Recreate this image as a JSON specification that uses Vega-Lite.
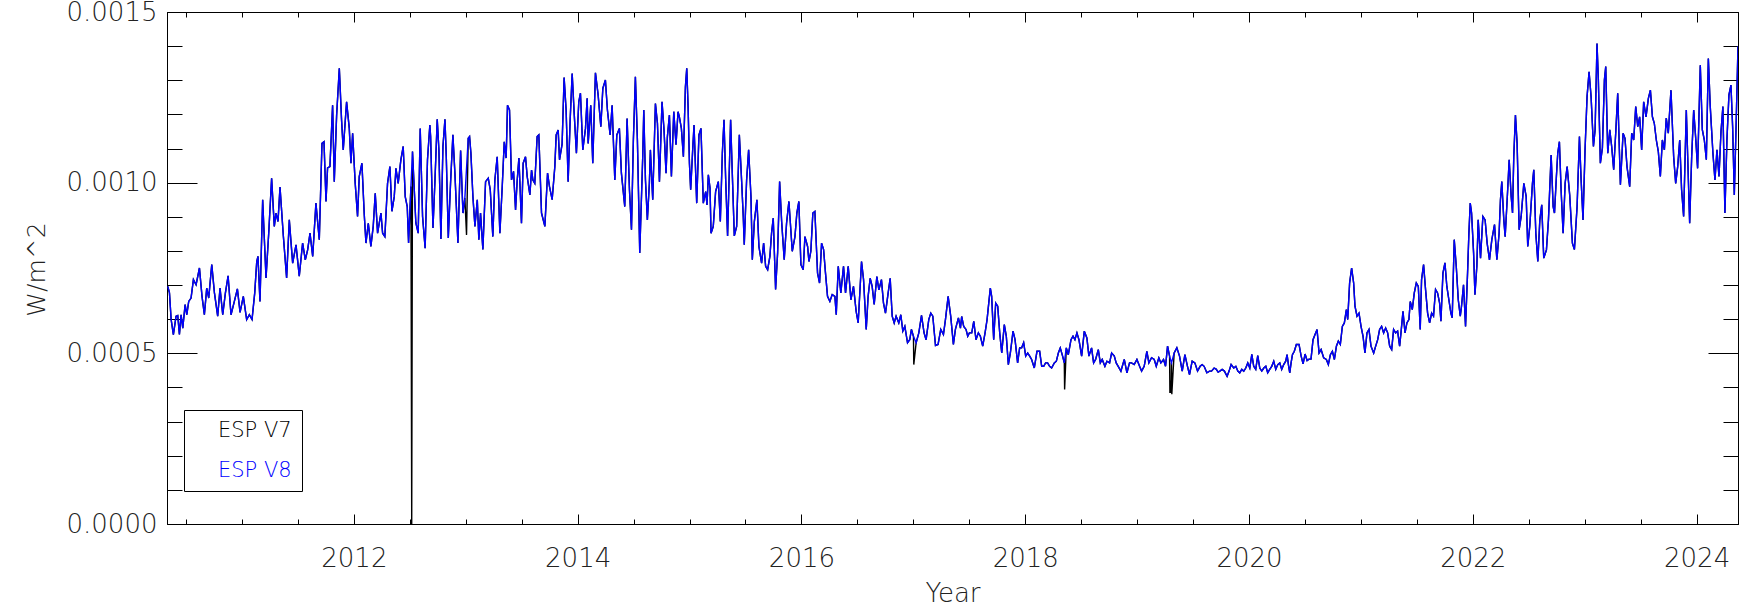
{
"$schema": "https://vega.github.io/schema/vega-lite/v6.json",
"width": 1571, "height": 512,
"autosize": {"type": "none"},
"padding": {"left": 167, "top": 12, "right": 11, "bottom": 82},
"background": "white",
"config": {
 "view": {"stroke": "#000", "strokeWidth": 1},
 "axis": {"labelFont": "DejaVu Sans", "labelFontWeight": 200, "labelFontSize": 26, "labelColor": "#222", "titleFont": "DejaVu Sans", "titleFontWeight": 200, "titleColor": "#222", "titleFontSize": 26, "grid": false, "domainColor": "#000", "tickColor": "#000", "tickWidth": 1, "labelFlush": false, "labelOverlap": false, "labelBound": false},
 "axisLeft": {"titleFontSize": 25}
},
"data": {"values": [
{"year":2010.337,"v7":0.000696,"v8":0.000696},{"year":2010.352,"v7":0.000677,"v8":0.000677},{"year":2010.367,"v7":0.000599,"v8":0.000599},{"year":2010.387,"v7":0.000555,"v8":0.000555},{"year":2010.411,"v7":0.000609,"v8":0.000609},{"year":2010.426,"v7":0.000611,"v8":0.000611},{"year":2010.441,"v7":0.000555,"v8":0.000555},{"year":2010.456,"v7":0.000613,"v8":0.000613},{"year":2010.471,"v7":0.000574,"v8":0.000574},{"year":2010.492,"v7":0.000643,"v8":0.000643},{"year":2010.507,"v7":0.000613,"v8":0.000613},{"year":2010.524,"v7":0.000652,"v8":0.000652},{"year":2010.545,"v7":0.000662,"v8":0.000662},{"year":2010.566,"v7":0.000716,"v8":0.000716},{"year":2010.590,"v7":0.000701,"v8":0.000701},{"year":2010.620,"v7":0.000750,"v8":0.000750},{"year":2010.643,"v7":0.000667,"v8":0.000667},{"year":2010.664,"v7":0.000613,"v8":0.000613},{"year":2010.685,"v7":0.000691,"v8":0.000691},{"year":2010.703,"v7":0.000662,"v8":0.000662},{"year":2010.730,"v7":0.000760,"v8":0.000760},{"year":2010.754,"v7":0.000677,"v8":0.000677},{"year":2010.783,"v7":0.000609,"v8":0.000609},{"year":2010.804,"v7":0.000691,"v8":0.000691},{"year":2010.828,"v7":0.000613,"v8":0.000613},{"year":2010.852,"v7":0.000677,"v8":0.000677},{"year":2010.876,"v7":0.000727,"v8":0.000727},{"year":2010.902,"v7":0.000613,"v8":0.000613},{"year":2010.932,"v7":0.000652,"v8":0.000652},{"year":2010.959,"v7":0.000689,"v8":0.000689},{"year":2010.983,"v7":0.000620,"v8":0.000620},{"year":2011.012,"v7":0.000667,"v8":0.000667},{"year":2011.042,"v7":0.000599,"v8":0.000599},{"year":2011.066,"v7":0.000613,"v8":0.000613},{"year":2011.090,"v7":0.000599,"v8":0.000599},{"year":2011.114,"v7":0.000677,"v8":0.000677},{"year":2011.132,"v7":0.000769,"v8":0.000769},{"year":2011.143,"v7":0.000784,"v8":0.000784},{"year":2011.161,"v7":0.000652,"v8":0.000652},{"year":2011.185,"v7":0.000950,"v8":0.000950},{"year":2011.215,"v7":0.000721,"v8":0.000721},{"year":2011.239,"v7":0.000852,"v8":0.000852},{"year":2011.265,"v7":0.001013,"v8":0.001013},{"year":2011.289,"v7":0.000872,"v8":0.000872},{"year":2011.304,"v7":0.000911,"v8":0.000911},{"year":2011.322,"v7":0.000886,"v8":0.000886},{"year":2011.340,"v7":0.000987,"v8":0.000987},{"year":2011.370,"v7":0.000843,"v8":0.000843},{"year":2011.399,"v7":0.000721,"v8":0.000721},{"year":2011.423,"v7":0.000891,"v8":0.000891},{"year":2011.453,"v7":0.000764,"v8":0.000764},{"year":2011.483,"v7":0.000818,"v8":0.000818},{"year":2011.512,"v7":0.000726,"v8":0.000726},{"year":2011.542,"v7":0.000823,"v8":0.000823},{"year":2011.566,"v7":0.000774,"v8":0.000774},{"year":2011.587,"v7":0.000803,"v8":0.000803},{"year":2011.608,"v7":0.000852,"v8":0.000852},{"year":2011.632,"v7":0.000784,"v8":0.000784},{"year":2011.661,"v7":0.000940,"v8":0.000940},{"year":2011.676,"v7":0.000886,"v8":0.000886},{"year":2011.691,"v7":0.000833,"v8":0.000833},{"year":2011.715,"v7":0.001115,"v8":0.001115},{"year":2011.733,"v7":0.001120,"v8":0.001120},{"year":2011.751,"v7":0.000945,"v8":0.000945},{"year":2011.765,"v7":0.001043,"v8":0.001043},{"year":2011.786,"v7":0.001047,"v8":0.001047},{"year":2011.810,"v7":0.001227,"v8":0.001227},{"year":2011.825,"v7":0.001003,"v8":0.001003},{"year":2011.846,"v7":0.001198,"v8":0.001198},{"year":2011.870,"v7":0.001335,"v8":0.001335},{"year":2011.890,"v7":0.001184,"v8":0.001184},{"year":2011.905,"v7":0.001096,"v8":0.001096},{"year":2011.935,"v7":0.001237,"v8":0.001237},{"year":2011.959,"v7":0.001159,"v8":0.001159},{"year":2011.974,"v7":0.001057,"v8":0.001057},{"year":2011.989,"v7":0.001145,"v8":0.001145},{"year":2012.012,"v7":0.000998,"v8":0.000998},{"year":2012.033,"v7":0.000901,"v8":0.000901},{"year":2012.048,"v7":0.001018,"v8":0.001018},{"year":2012.072,"v7":0.001057,"v8":0.001057},{"year":2012.093,"v7":0.000906,"v8":0.000906},{"year":2012.108,"v7":0.000823,"v8":0.000823},{"year":2012.129,"v7":0.000881,"v8":0.000881},{"year":2012.152,"v7":0.000813,"v8":0.000813},{"year":2012.173,"v7":0.000872,"v8":0.000872},{"year":2012.191,"v7":0.000969,"v8":0.000969},{"year":2012.212,"v7":0.000852,"v8":0.000852},{"year":2012.242,"v7":0.000911,"v8":0.000911},{"year":2012.257,"v7":0.000852,"v8":0.000852},{"year":2012.277,"v7":0.000842,"v8":0.000842},{"year":2012.301,"v7":0.000998,"v8":0.000998},{"year":2012.322,"v7":0.001047,"v8":0.001047},{"year":2012.340,"v7":0.000916,"v8":0.000916},{"year":2012.361,"v7":0.000959,"v8":0.000959},{"year":2012.376,"v7":0.001042,"v8":0.001042},{"year":2012.396,"v7":0.000998,"v8":0.000998},{"year":2012.420,"v7":0.001067,"v8":0.001067},{"year":2012.441,"v7":0.001106,"v8":0.001106},{"year":2012.459,"v7":0.000959,"v8":0.000959},{"year":2012.477,"v7":0.000930,"v8":0.000930},{"year":2012.489,"v7":0.000823,"v8":0.000823},{"year":2012.510,"v7":0.000989,"v8":0.000989},{"year":2012.517,"v7":0.0},{"year":2012.524,"v7":0.001091,"v8":0.001091},{"year":2012.554,"v7":0.000882,"v8":0.000882},{"year":2012.575,"v7":0.000852,"v8":0.000852},{"year":2012.593,"v7":0.001159,"v8":0.001159},{"year":2012.614,"v7":0.000901,"v8":0.000901},{"year":2012.637,"v7":0.000808,"v8":0.000808},{"year":2012.658,"v7":0.001067,"v8":0.001067},{"year":2012.679,"v7":0.001169,"v8":0.001169},
{"year":2012.686,"v7":0.001135,"v8":0.001135},{"year":2012.707,"v7":0.000867,"v8":0.000867},{"year":2012.725,"v7":0.001008,"v8":0.001008},{"year":2012.745,"v7":0.001186,"v8":0.001186},{"year":2012.760,"v7":0.001096,"v8":0.001096},{"year":2012.778,"v7":0.000835,"v8":0.000835},{"year":2012.796,"v7":0.001106,"v8":0.001106},{"year":2012.814,"v7":0.001186,"v8":0.001186},{"year":2012.826,"v7":0.001076,"v8":0.001076},{"year":2012.844,"v7":0.000838,"v8":0.000838},{"year":2012.864,"v7":0.000998,"v8":0.000998},{"year":2012.885,"v7":0.001140,"v8":0.001140},{"year":2012.903,"v7":0.001028,"v8":0.001028},{"year":2012.930,"v7":0.000823,"v8":0.000823},{"year":2012.954,"v7":0.001094,"v8":0.001094},{"year":2012.975,"v7":0.000911,"v8":0.000911},{"year":2012.992,"v7":0.000955,"v8":0.000955},{"year":2013.007,"v7":0.000847},{"year":2013.022,"v7":0.001130,"v8":0.001130},{"year":2013.034,"v7":0.001135,"v8":0.001135},{"year":2013.046,"v7":0.001086,"v8":0.001086},{"year":2013.064,"v7":0.000959,"v8":0.000959},{"year":2013.082,"v7":0.000872,"v8":0.000872},{"year":2013.103,"v7":0.000950,"v8":0.000950},{"year":2013.117,"v7":0.000833,"v8":0.000833},{"year":2013.132,"v7":0.000911,"v8":0.000911},{"year":2013.153,"v7":0.000804,"v8":0.000804},{"year":2013.177,"v7":0.001003,"v8":0.001003},{"year":2013.201,"v7":0.001013,"v8":0.001013},{"year":2013.219,"v7":0.000979,"v8":0.000979},{"year":2013.242,"v7":0.000842,"v8":0.000842},{"year":2013.260,"v7":0.001008,"v8":0.001008},{"year":2013.281,"v7":0.001076,"v8":0.001076},{"year":2013.305,"v7":0.000852,"v8":0.000852},{"year":2013.326,"v7":0.000989,"v8":0.000989},{"year":2013.344,"v7":0.001120,"v8":0.001120},{"year":2013.361,"v7":0.001072,"v8":0.001072},{"year":2013.373,"v7":0.001227,"v8":0.001227},{"year":2013.391,"v7":0.001213,"v8":0.001213},{"year":2013.409,"v7":0.001008,"v8":0.001008},{"year":2013.427,"v7":0.001033,"v8":0.001033},{"year":2013.445,"v7":0.000920,"v8":0.000920},{"year":2013.460,"v7":0.001008,"v8":0.001008},{"year":2013.475,"v7":0.001072,"v8":0.001072},{"year":2013.498,"v7":0.000881,"v8":0.000881},{"year":2013.513,"v7":0.001057,"v8":0.001057},{"year":2013.534,"v7":0.001076,"v8":0.001076},{"year":2013.549,"v7":0.001018,"v8":0.001018},{"year":2013.573,"v7":0.000964,"v8":0.000964},{"year":2013.588,"v7":0.001037,"v8":0.001037},{"year":2013.600,"v7":0.001008,"v8":0.001008},{"year":2013.617,"v7":0.000998,"v8":0.000998},{"year":2013.638,"v7":0.001135,"v8":0.001135},{"year":2013.653,"v7":0.001140,"v8":0.001140},{"year":2013.677,"v7":0.000911,"v8":0.000911},{"year":2013.707,"v7":0.000872,"v8":0.000872},{"year":2013.731,"v7":0.001028,"v8":0.001028},{"year":2013.748,"v7":0.000989,"v8":0.000989},{"year":2013.772,"v7":0.000950,"v8":0.000950},{"year":2013.796,"v7":0.001047,"v8":0.001047},{"year":2013.808,"v7":0.001140,"v8":0.001140},{"year":2013.826,"v7":0.001154,"v8":0.001154},{"year":2013.838,"v7":0.001067,"v8":0.001067},{"year":2013.861,"v7":0.001113,"v8":0.001113},{"year":2013.879,"v7":0.001308,"v8":0.001308},{"year":2013.897,"v7":0.001213,"v8":0.001213},{"year":2013.915,"v7":0.001003,"v8":0.001003},{"year":2013.933,"v7":0.001184,"v8":0.001184},{"year":2013.951,"v7":0.001320,"v8":0.001320},{"year":2013.969,"v7":0.001203,"v8":0.001203},{"year":2013.989,"v7":0.001086,"v8":0.001086},{"year":2014.010,"v7":0.001237,"v8":0.001237},{"year":2014.025,"v7":0.001262,"v8":0.001262},{"year":2014.046,"v7":0.001096,"v8":0.001096},{"year":2014.070,"v7":0.001159,"v8":0.001159},{"year":2014.085,"v7":0.001247,"v8":0.001247},{"year":2014.094,"v7":0.001115,"v8":0.001115},{"year":2014.117,"v7":0.001227,"v8":0.001227},{"year":2014.135,"v7":0.001057,"v8":0.001057},{"year":2014.159,"v7":0.001322,"v8":0.001322},{"year":2014.183,"v7":0.001257,"v8":0.001257},{"year":2014.207,"v7":0.001164,"v8":0.001164},{"year":2014.225,"v7":0.001276,"v8":0.001276},{"year":2014.248,"v7":0.001301,"v8":0.001301},{"year":2014.266,"v7":0.001213,"v8":0.001213},{"year":2014.290,"v7":0.001140,"v8":0.001140},{"year":2014.308,"v7":0.001227,"v8":0.001227},{"year":2014.332,"v7":0.001008,"v8":0.001008},{"year":2014.350,"v7":0.001140,"v8":0.001140},{"year":2014.373,"v7":0.001159,"v8":0.001159},{"year":2014.391,"v7":0.001028,"v8":0.001028},{"year":2014.421,"v7":0.000930,"v8":0.000930},{"year":2014.442,"v7":0.001188,"v8":0.001188},{"year":2014.463,"v7":0.000979,"v8":0.000979},{"year":2014.481,"v7":0.000862,"v8":0.000862},{"year":2014.498,"v7":0.001125,"v8":0.001125},{"year":2014.516,"v7":0.001310,"v8":0.001310},{"year":2014.534,"v7":0.001125,"v8":0.001125},{"year":2014.555,"v7":0.000794,"v8":0.000794},{"year":2014.582,"v7":0.001081,"v8":0.001081},{"year":2014.591,"v7":0.001213,"v8":0.001213},{"year":2014.606,"v7":0.001008,"v8":0.001008},{"year":2014.623,"v7":0.000891,"v8":0.000891},{"year":2014.641,"v7":0.000998,"v8":0.000998},{"year":2014.650,"v7":0.001096,"v8":0.001096},{"year":2014.671,"v7":0.000950,"v8":0.000950},{"year":2014.695,"v7":0.001232,"v8":0.001232},{"year":2014.713,"v7":0.001174,"v8":0.001174},{"year":2014.731,"v7":0.001003,"v8":0.001003},{"year":2014.754,"v7":0.001237,"v8":0.001237},{"year":2014.772,"v7":0.001154,"v8":0.001154},{"year":2014.790,"v7":0.001028,"v8":0.001028},{"year":2014.802,"v7":0.001135,"v8":0.001135},{"year":2014.820,"v7":0.001198,"v8":0.001198},{"year":2014.838,"v7":0.001018,"v8":0.001018},{"year":2014.859,"v7":0.001208,"v8":0.001208},{"year":2014.879,"v7":0.001111,"v8":0.001111},{"year":2014.897,"v7":0.001208,"v8":0.001208},{"year":2014.909,"v7":0.001193,"v8":0.001193},{"year":2014.927,"v7":0.001159,"v8":0.001159},{"year":2014.945,"v7":0.001076,"v8":0.001076},{"year":2014.963,"v7":0.001281,"v8":0.001281},{"year":2014.975,"v7":0.001335,"v8":0.001335},{"year":2014.987,"v7":0.001223,"v8":0.001223},{"year":2014.999,"v7":0.001057,"v8":0.001057},{"year":2015.010,"v7":0.000979,"v8":0.000979},{"year":2015.028,"v7":0.001096,"v8":0.001096},
{"year":2015.040,"v7":0.001169,"v8":0.001169},{"year":2015.064,"v7":0.000940,"v8":0.000940},{"year":2015.084,"v7":0.001140,"v8":0.001140},{"year":2015.102,"v7":0.001159,"v8":0.001159},{"year":2015.123,"v7":0.000940,"v8":0.000940},{"year":2015.144,"v7":0.000974,"v8":0.000974},{"year":2015.156,"v7":0.000935,"v8":0.000935},{"year":2015.168,"v7":0.001023,"v8":0.001023},{"year":2015.183,"v7":0.000984,"v8":0.000984},{"year":2015.192,"v7":0.000852,"v8":0.000852},{"year":2015.212,"v7":0.000872,"v8":0.000872},{"year":2015.233,"v7":0.000974,"v8":0.000974},{"year":2015.257,"v7":0.001003,"v8":0.001003},{"year":2015.275,"v7":0.000886,"v8":0.000886},{"year":2015.293,"v7":0.001086,"v8":0.001086},{"year":2015.308,"v7":0.001184,"v8":0.001184},{"year":2015.323,"v7":0.001008,"v8":0.001008},{"year":2015.340,"v7":0.000844,"v8":0.000844},{"year":2015.367,"v7":0.001184,"v8":0.001184},{"year":2015.382,"v7":0.001028,"v8":0.001028},{"year":2015.400,"v7":0.000844,"v8":0.000844},{"year":2015.421,"v7":0.000872,"v8":0.000872},{"year":2015.445,"v7":0.001140,"v8":0.001140},{"year":2015.465,"v7":0.001008,"v8":0.001008},{"year":2015.480,"v7":0.000901,"v8":0.000901},{"year":2015.489,"v7":0.000818,"v8":0.000818},{"year":2015.510,"v7":0.001008,"v8":0.001008},{"year":2015.528,"v7":0.001096,"v8":0.001096},{"year":2015.549,"v7":0.000959,"v8":0.000959},{"year":2015.561,"v7":0.000774,"v8":0.000774},{"year":2015.579,"v7":0.000886,"v8":0.000886},{"year":2015.602,"v7":0.000950,"v8":0.000950},{"year":2015.620,"v7":0.000813,"v8":0.000813},{"year":2015.644,"v7":0.000764,"v8":0.000764},{"year":2015.662,"v7":0.000823,"v8":0.000823},{"year":2015.680,"v7":0.000755,"v8":0.000755},{"year":2015.698,"v7":0.000745,"v8":0.000745},{"year":2015.718,"v7":0.000784,"v8":0.000784},{"year":2015.733,"v7":0.000852,"v8":0.000852},{"year":2015.748,"v7":0.000896,"v8":0.000896},{"year":2015.769,"v7":0.000687,"v8":0.000687},{"year":2015.787,"v7":0.000794,"v8":0.000794},{"year":2015.805,"v7":0.001003,"v8":0.001003},{"year":2015.823,"v7":0.000886,"v8":0.000886},{"year":2015.846,"v7":0.000774,"v8":0.000774},{"year":2015.867,"v7":0.000881,"v8":0.000881},{"year":2015.888,"v7":0.000945,"v8":0.000945},{"year":2015.918,"v7":0.000799,"v8":0.000799},{"year":2015.942,"v7":0.000842,"v8":0.000842},{"year":2015.959,"v7":0.000911,"v8":0.000911},{"year":2015.977,"v7":0.000945,"v8":0.000945},{"year":2015.995,"v7":0.000760,"v8":0.000760},{"year":2016.016,"v7":0.000745,"v8":0.000745},{"year":2016.031,"v7":0.000842,"v8":0.000842},{"year":2016.055,"v7":0.000813,"v8":0.000813},{"year":2016.067,"v7":0.000769,"v8":0.000769},{"year":2016.084,"v7":0.000799,"v8":0.000799},{"year":2016.102,"v7":0.000911,"v8":0.000911},{"year":2016.120,"v7":0.000916,"v8":0.000916},{"year":2016.144,"v7":0.000735,"v8":0.000735},{"year":2016.162,"v7":0.000706,"v8":0.000706},{"year":2016.180,"v7":0.000823,"v8":0.000823},{"year":2016.198,"v7":0.000804,"v8":0.000804},{"year":2016.215,"v7":0.000735,"v8":0.000735},{"year":2016.233,"v7":0.000667,"v8":0.000667},{"year":2016.254,"v7":0.000652,"v8":0.000652},{"year":2016.275,"v7":0.000672,"v8":0.000672},{"year":2016.299,"v7":0.000667,"v8":0.000667},{"year":2016.311,"v7":0.000613,"v8":0.000613},{"year":2016.329,"v7":0.000755,"v8":0.000755},{"year":2016.352,"v7":0.000677,"v8":0.000677},{"year":2016.376,"v7":0.000755,"v8":0.000755},{"year":2016.394,"v7":0.000677,"v8":0.000677},{"year":2016.418,"v7":0.000755,"v8":0.000755},{"year":2016.442,"v7":0.000657,"v8":0.000657},{"year":2016.465,"v7":0.000696,"v8":0.000696},{"year":2016.489,"v7":0.000623,"v8":0.000623},{"year":2016.507,"v7":0.000589,"v8":0.000589},{"year":2016.537,"v7":0.000769,"v8":0.000769},{"year":2016.555,"v7":0.000716,"v8":0.000716},{"year":2016.579,"v7":0.000570,"v8":0.000570},{"year":2016.596,"v7":0.000667,"v8":0.000667},{"year":2016.614,"v7":0.000720,"v8":0.000720},{"year":2016.632,"v7":0.000696,"v8":0.000696},{"year":2016.650,"v7":0.000643,"v8":0.000643},{"year":2016.674,"v7":0.000725,"v8":0.000725},{"year":2016.692,"v7":0.000686,"v8":0.000686},{"year":2016.715,"v7":0.000716,"v8":0.000716},{"year":2016.733,"v7":0.000648,"v8":0.000648},{"year":2016.751,"v7":0.000618,"v8":0.000618},{"year":2016.775,"v7":0.000677,"v8":0.000677},{"year":2016.793,"v7":0.000720,"v8":0.000720},{"year":2016.811,"v7":0.000609,"v8":0.000609},{"year":2016.829,"v7":0.000589,"v8":0.000589},{"year":2016.846,"v7":0.000609,"v8":0.000609},{"year":2016.870,"v7":0.000589,"v8":0.000589},{"year":2016.888,"v7":0.000613,"v8":0.000613},{"year":2016.906,"v7":0.000565,"v8":0.000565},{"year":2016.924,"v7":0.000579,"v8":0.000579},{"year":2016.948,"v7":0.000531,"v8":0.000531},{"year":2016.968,"v7":0.000540,"v8":0.000540},{"year":2016.983,"v7":0.000570,"v8":0.000570},{"year":2017.001,"v7":0.000550,"v8":0.000550},{"year":2017.004,"v7":0.000467},{"year":2017.025,"v7":0.000531,"v8":0.000531},{"year":2017.049,"v7":0.000560,"v8":0.000560},{"year":2017.073,"v7":0.000611,"v8":0.000611},{"year":2017.096,"v7":0.000560,"v8":0.000560},{"year":2017.114,"v7":0.000540,"v8":0.000540},{"year":2017.138,"v7":0.000599,"v8":0.000599},{"year":2017.156,"v7":0.000618,"v8":0.000618},{"year":2017.174,"v7":0.000609,"v8":0.000609},{"year":2017.198,"v7":0.000523,"v8":0.000523},{"year":2017.221,"v7":0.000526,"v8":0.000526},{"year":2017.245,"v7":0.000570,"v8":0.000570},{"year":2017.269,"v7":0.000555,"v8":0.000555},{"year":2017.287,"v7":0.000599,"v8":0.000599},{"year":2017.311,"v7":0.000667,"v8":0.000667},{"year":2017.334,"v7":0.000609,"v8":0.000609},{"year":2017.358,"v7":0.000526,"v8":0.000526},{"year":2017.376,"v7":0.000570,"v8":0.000570},
{"year":2017.403,"v7":0.000604,"v8":0.000604},{"year":2017.421,"v7":0.000574,"v8":0.000574},{"year":2017.432,"v7":0.000608,"v8":0.000608},{"year":2017.450,"v7":0.000579,"v8":0.000579},{"year":2017.471,"v7":0.000570,"v8":0.000570},{"year":2017.486,"v7":0.000550,"v8":0.000550},{"year":2017.501,"v7":0.000560,"v8":0.000560},{"year":2017.522,"v7":0.000560,"v8":0.000560},{"year":2017.540,"v7":0.000594,"v8":0.000594},{"year":2017.560,"v7":0.000540,"v8":0.000540},{"year":2017.581,"v7":0.000560,"v8":0.000560},{"year":2017.599,"v7":0.000550,"v8":0.000550},{"year":2017.620,"v7":0.000521,"v8":0.000521},{"year":2017.641,"v7":0.000560,"v8":0.000560},{"year":2017.659,"v7":0.000599,"v8":0.000599},{"year":2017.674,"v7":0.000647,"v8":0.000647},{"year":2017.688,"v7":0.000691,"v8":0.000691},{"year":2017.700,"v7":0.000667,"v8":0.000667},{"year":2017.718,"v7":0.000540,"v8":0.000540},{"year":2017.736,"v7":0.000647,"v8":0.000647},{"year":2017.754,"v7":0.000638,"v8":0.000638},{"year":2017.772,"v7":0.000560,"v8":0.000560},{"year":2017.790,"v7":0.000501,"v8":0.000501},{"year":2017.813,"v7":0.000584,"v8":0.000584},{"year":2017.831,"v7":0.000550,"v8":0.000550},{"year":2017.849,"v7":0.000467,"v8":0.000467},{"year":2017.867,"v7":0.000501,"v8":0.000501},{"year":2017.891,"v7":0.000565,"v8":0.000565},{"year":2017.909,"v7":0.000540,"v8":0.000540},{"year":2017.932,"v7":0.000472,"v8":0.000472},{"year":2017.950,"v7":0.000516,"v8":0.000516},{"year":2017.968,"v7":0.000516,"v8":0.000516},{"year":2017.986,"v7":0.000531,"v8":0.000531},{"year":2018.004,"v7":0.000492,"v8":0.000492},{"year":2018.022,"v7":0.000501,"v8":0.000501},{"year":2018.040,"v7":0.000492,"v8":0.000492},{"year":2018.057,"v7":0.000482,"v8":0.000482},{"year":2018.081,"v7":0.000457,"v8":0.000457},{"year":2018.105,"v7":0.000506,"v8":0.000506},{"year":2018.129,"v7":0.000506,"v8":0.000506},{"year":2018.147,"v7":0.000462,"v8":0.000462},{"year":2018.165,"v7":0.000462,"v8":0.000462},{"year":2018.182,"v7":0.000472,"v8":0.000472},{"year":2018.200,"v7":0.000472,"v8":0.000472},{"year":2018.218,"v7":0.000462,"v8":0.000462},{"year":2018.236,"v7":0.000457,"v8":0.000457},{"year":2018.260,"v7":0.000472,"v8":0.000472},{"year":2018.278,"v7":0.000477,"v8":0.000477},{"year":2018.296,"v7":0.000501,"v8":0.000501},{"year":2018.313,"v7":0.000516,"v8":0.000516},{"year":2018.334,"v7":0.000492,"v8":0.000492},{"year":2018.349,"v7":0.000472,"v8":0.000472},{"year":2018.352,"v7":0.000394},{"year":2018.367,"v7":0.000516,"v8":0.000516},{"year":2018.385,"v7":0.000496,"v8":0.000496},{"year":2018.409,"v7":0.000540,"v8":0.000540},{"year":2018.427,"v7":0.000550,"v8":0.000550},{"year":2018.444,"v7":0.000540,"v8":0.000540},{"year":2018.462,"v7":0.000560,"v8":0.000560},{"year":2018.480,"v7":0.000540,"v8":0.000540},{"year":2018.504,"v7":0.000492,"v8":0.000492},{"year":2018.528,"v7":0.000565,"v8":0.000565},{"year":2018.551,"v7":0.000545,"v8":0.000545},{"year":2018.569,"v7":0.000492,"v8":0.000492},{"year":2018.593,"v7":0.000516,"v8":0.000516},{"year":2018.611,"v7":0.000472,"v8":0.000472},{"year":2018.629,"v7":0.000482,"v8":0.000482},{"year":2018.653,"v7":0.000511,"v8":0.000511},{"year":2018.671,"v7":0.000472,"v8":0.000472},{"year":2018.688,"v7":0.000482,"v8":0.000482},{"year":2018.712,"v7":0.000462,"v8":0.000462},{"year":2018.730,"v7":0.000477,"v8":0.000477},{"year":2018.754,"v7":0.000472,"v8":0.000472},{"year":2018.772,"v7":0.000501,"v8":0.000501},{"year":2018.796,"v7":0.000492,"v8":0.000492},{"year":2018.813,"v7":0.000472,"v8":0.000472},{"year":2018.831,"v7":0.000462,"v8":0.000462},{"year":2018.855,"v7":0.000448,"v8":0.000448},{"year":2018.885,"v7":0.000482,"v8":0.000482},{"year":2018.909,"v7":0.000443,"v8":0.000443},{"year":2018.932,"v7":0.000472,"v8":0.000472},{"year":2018.950,"v7":0.000472,"v8":0.000472},{"year":2018.974,"v7":0.000467,"v8":0.000467},{"year":2018.998,"v7":0.000482,"v8":0.000482},{"year":2019.022,"v7":0.000462,"v8":0.000462},{"year":2019.040,"v7":0.000448,"v8":0.000448},{"year":2019.063,"v7":0.000462,"v8":0.000462},{"year":2019.087,"v7":0.000506,"v8":0.000506},{"year":2019.105,"v7":0.000472,"v8":0.000472},{"year":2019.129,"v7":0.000487,"v8":0.000487},{"year":2019.153,"v7":0.000482,"v8":0.000482},{"year":2019.171,"v7":0.000462,"v8":0.000462},{"year":2019.194,"v7":0.000487,"v8":0.000487},{"year":2019.212,"v7":0.000472,"v8":0.000472},{"year":2019.236,"v7":0.000482,"v8":0.000482},{"year":2019.254,"v7":0.000462,"v8":0.000462},{"year":2019.272,"v7":0.000521,"v8":0.000521},{"year":2019.290,"v7":0.000492,"v8":0.000492},{"year":2019.293,"v7":0.000384},{"year":2019.300,"v7":0.000420},{"year":2019.304,"v7":0.000384},{"year":2019.307,"v7":0.000472,"v8":0.000472},{"year":2019.310,"v7":0.000380},{"year":2019.331,"v7":0.000501,"v8":0.000501},{"year":2019.355,"v7":0.000516,"v8":0.000516},{"year":2019.379,"v7":0.000492,"v8":0.000492},{"year":2019.403,"v7":0.000448,"v8":0.000448},{"year":2019.427,"v7":0.000496,"v8":0.000496},{"year":2019.450,"v7":0.000462,"v8":0.000462},{"year":2019.468,"v7":0.000438,"v8":0.000438},{"year":2019.492,"v7":0.000477,"v8":0.000477},{"year":2019.516,"v7":0.000472,"v8":0.000472},{"year":2019.540,"v7":0.000448,"v8":0.000448},{"year":2019.563,"v7":0.000462,"v8":0.000462},{"year":2019.581,"v7":0.000467,"v8":0.000467},{"year":2019.599,"v7":0.000462,"v8":0.000462},{"year":2019.623,"v7":0.000443,"v8":0.000443},{"year":2019.647,"v7":0.000448,"v8":0.000448},{"year":2019.665,"v7":0.000448,"v8":0.000448},{"year":2019.688,"v7":0.000457,"v8":0.000457},{"year":2019.706,"v7":0.000454,"v8":0.000454},{"year":2019.724,"v7":0.000445,"v8":0.000445},
{"year":2019.739,"v7":0.000448,"v8":0.000448},{"year":2019.760,"v7":0.000453,"v8":0.000453},{"year":2019.780,"v7":0.000448,"v8":0.000448},{"year":2019.804,"v7":0.000433,"v8":0.000433},{"year":2019.822,"v7":0.000448,"v8":0.000448},{"year":2019.840,"v7":0.000467,"v8":0.000467},{"year":2019.864,"v7":0.000457,"v8":0.000457},{"year":2019.882,"v7":0.000462,"v8":0.000462},{"year":2019.900,"v7":0.000448,"v8":0.000448},{"year":2019.917,"v7":0.000443,"v8":0.000443},{"year":2019.935,"v7":0.000453,"v8":0.000453},{"year":2019.953,"v7":0.000448,"v8":0.000448},{"year":2019.971,"v7":0.000457,"v8":0.000457},{"year":2019.989,"v7":0.000472,"v8":0.000472},{"year":2020.007,"v7":0.000457,"v8":0.000457},{"year":2020.025,"v7":0.000497,"v8":0.000497},{"year":2020.042,"v7":0.000462,"v8":0.000462},{"year":2020.060,"v7":0.000453,"v8":0.000453},{"year":2020.078,"v7":0.000493,"v8":0.000493},{"year":2020.096,"v7":0.000457,"v8":0.000457},{"year":2020.114,"v7":0.000448,"v8":0.000448},{"year":2020.132,"v7":0.000457,"v8":0.000457},{"year":2020.150,"v7":0.000462,"v8":0.000462},{"year":2020.167,"v7":0.000443,"v8":0.000443},{"year":2020.185,"v7":0.000453,"v8":0.000453},{"year":2020.203,"v7":0.000462,"v8":0.000462},{"year":2020.221,"v7":0.000477,"v8":0.000477},{"year":2020.239,"v7":0.000453,"v8":0.000453},{"year":2020.257,"v7":0.000467,"v8":0.000467},{"year":2020.275,"v7":0.000472,"v8":0.000472},{"year":2020.292,"v7":0.000453,"v8":0.000453},{"year":2020.310,"v7":0.000467,"v8":0.000467},{"year":2020.328,"v7":0.000477,"v8":0.000477},{"year":2020.340,"v7":0.000496,"v8":0.000496},{"year":2020.352,"v7":0.000467,"v8":0.000467},{"year":2020.364,"v7":0.000443,"v8":0.000443},{"year":2020.376,"v7":0.000472,"v8":0.000472},{"year":2020.388,"v7":0.000496,"v8":0.000496},{"year":2020.405,"v7":0.000506,"v8":0.000506},{"year":2020.423,"v7":0.000526,"v8":0.000526},{"year":2020.447,"v7":0.000526,"v8":0.000526},{"year":2020.465,"v7":0.000493,"v8":0.000493},{"year":2020.483,"v7":0.000469,"v8":0.000469},{"year":2020.501,"v7":0.000498,"v8":0.000498},{"year":2020.519,"v7":0.000479,"v8":0.000479},{"year":2020.536,"v7":0.000483,"v8":0.000483},{"year":2020.554,"v7":0.000483,"v8":0.000483},{"year":2020.572,"v7":0.000540,"v8":0.000540},{"year":2020.590,"v7":0.000555,"v8":0.000555},{"year":2020.608,"v7":0.000570,"v8":0.000570},{"year":2020.626,"v7":0.000501,"v8":0.000501},{"year":2020.644,"v7":0.000511,"v8":0.000511},{"year":2020.667,"v7":0.000487,"v8":0.000487},{"year":2020.691,"v7":0.000482,"v8":0.000482},{"year":2020.709,"v7":0.000467,"v8":0.000467},{"year":2020.727,"v7":0.000496,"v8":0.000496},{"year":2020.745,"v7":0.000506,"v8":0.000506},{"year":2020.763,"v7":0.000482,"v8":0.000482},{"year":2020.781,"v7":0.000521,"v8":0.000521},{"year":2020.798,"v7":0.000536,"v8":0.000536},{"year":2020.816,"v7":0.000526,"v8":0.000526},{"year":2020.834,"v7":0.000579,"v8":0.000579},{"year":2020.852,"v7":0.000589,"v8":0.000589},{"year":2020.870,"v7":0.000628,"v8":0.000628},{"year":2020.882,"v7":0.000599,"v8":0.000599},{"year":2020.899,"v7":0.000706,"v8":0.000706},{"year":2020.917,"v7":0.000750,"v8":0.000750},{"year":2020.935,"v7":0.000706,"v8":0.000706},{"year":2020.947,"v7":0.000638,"v8":0.000638},{"year":2020.965,"v7":0.000609,"v8":0.000609},{"year":2020.983,"v7":0.000618,"v8":0.000618},{"year":2021.001,"v7":0.000579,"v8":0.000579},{"year":2021.019,"v7":0.000550,"v8":0.000550},{"year":2021.036,"v7":0.000501,"v8":0.000501},{"year":2021.054,"v7":0.000560,"v8":0.000560},{"year":2021.072,"v7":0.000570,"v8":0.000570},{"year":2021.090,"v7":0.000521,"v8":0.000521},{"year":2021.114,"v7":0.000501,"v8":0.000501},{"year":2021.132,"v7":0.000521,"v8":0.000521},{"year":2021.150,"v7":0.000540,"v8":0.000540},{"year":2021.167,"v7":0.000570,"v8":0.000570},{"year":2021.185,"v7":0.000579,"v8":0.000579},{"year":2021.203,"v7":0.000560,"v8":0.000560},{"year":2021.221,"v7":0.000574,"v8":0.000574},{"year":2021.239,"v7":0.000560,"v8":0.000560},{"year":2021.257,"v7":0.000521,"v8":0.000521},{"year":2021.275,"v7":0.000511,"v8":0.000511},{"year":2021.292,"v7":0.000570,"v8":0.000570},{"year":2021.310,"v7":0.000560,"v8":0.000560},{"year":2021.328,"v7":0.000565,"v8":0.000565},{"year":2021.346,"v7":0.000521,"v8":0.000521},{"year":2021.358,"v7":0.000560,"v8":0.000560},{"year":2021.376,"v7":0.000623,"v8":0.000623},{"year":2021.394,"v7":0.000560,"v8":0.000560},{"year":2021.411,"v7":0.000589,"v8":0.000589},{"year":2021.429,"v7":0.000599,"v8":0.000599},{"year":2021.441,"v7":0.000652,"v8":0.000652},{"year":2021.459,"v7":0.000628,"v8":0.000628},{"year":2021.477,"v7":0.000677,"v8":0.000677},{"year":2021.495,"v7":0.000706,"v8":0.000706},{"year":2021.513,"v7":0.000696,"v8":0.000696},{"year":2021.530,"v7":0.000570,"v8":0.000570},{"year":2021.542,"v7":0.000716,"v8":0.000716},{"year":2021.560,"v7":0.000760,"v8":0.000760},{"year":2021.578,"v7":0.000686,"v8":0.000686},{"year":2021.596,"v7":0.000618,"v8":0.000618},{"year":2021.614,"v7":0.000589,"v8":0.000589},{"year":2021.632,"v7":0.000618,"v8":0.000618},{"year":2021.649,"v7":0.000609,"v8":0.000609},{"year":2021.667,"v7":0.000687,"v8":0.000687},{"year":2021.685,"v7":0.000677,"v8":0.000677},{"year":2021.703,"v7":0.000648,"v8":0.000648},{"year":2021.715,"v7":0.000594,"v8":0.000594},{"year":2021.733,"v7":0.000735,"v8":0.000735},{"year":2021.751,"v7":0.000765,"v8":0.000765},{"year":2021.768,"v7":0.000696,"v8":0.000696},{"year":2021.786,"v7":0.000657,"v8":0.000657},{"year":2021.804,"v7":0.000618,"v8":0.000618},{"year":2021.816,"v7":0.000604,"v8":0.000604},{"year":2021.834,"v7":0.000833,"v8":0.000833},{"year":2021.852,"v7":0.000755,"v8":0.000755},{"year":2021.870,"v7":0.000657,"v8":0.000657},{"year":2021.888,"v7":0.000609,"v8":0.000609},{"year":2021.899,"v7":0.000638,"v8":0.000638},{"year":2021.917,"v7":0.000701,"v8":0.000701},{"year":2021.935,"v7":0.000579,"v8":0.000579},{"year":2021.953,"v7":0.000735,"v8":0.000735},{"year":2021.965,"v7":0.000852,"v8":0.000852},{"year":2021.977,"v7":0.000940,"v8":0.000940},{"year":2021.989,"v7":0.000911,"v8":0.000911},{"year":2022.007,"v7":0.000794,"v8":0.000794},{"year":2022.019,"v7":0.000672,"v8":0.000672},{"year":2022.036,"v7":0.000755,"v8":0.000755},{"year":2022.048,"v7":0.000891,"v8":0.000891},
{"year":2022.069,"v7":0.000779,"v8":0.000779},{"year":2022.090,"v7":0.000901,"v8":0.000901},{"year":2022.110,"v7":0.000891,"v8":0.000891},{"year":2022.128,"v7":0.000823,"v8":0.000823},{"year":2022.149,"v7":0.000774,"v8":0.000774},{"year":2022.170,"v7":0.000833,"v8":0.000833},{"year":2022.194,"v7":0.000877,"v8":0.000877},{"year":2022.215,"v7":0.000774,"v8":0.000774},{"year":2022.235,"v7":0.000852,"v8":0.000852},{"year":2022.247,"v7":0.000950,"v8":0.000950},{"year":2022.259,"v7":0.001003,"v8":0.001003},{"year":2022.277,"v7":0.000891,"v8":0.000891},{"year":2022.289,"v7":0.000842,"v8":0.000842},{"year":2022.307,"v7":0.000950,"v8":0.000950},{"year":2022.325,"v7":0.001067,"v8":0.001067},{"year":2022.343,"v7":0.000959,"v8":0.000959},{"year":2022.355,"v7":0.000911,"v8":0.000911},{"year":2022.366,"v7":0.001076,"v8":0.001076},{"year":2022.381,"v7":0.001198,"v8":0.001198},{"year":2022.396,"v7":0.001115,"v8":0.001115},{"year":2022.414,"v7":0.000862,"v8":0.000862},{"year":2022.432,"v7":0.000901,"v8":0.000901},{"year":2022.456,"v7":0.000998,"v8":0.000998},{"year":2022.477,"v7":0.000959,"v8":0.000959},{"year":2022.491,"v7":0.000813,"v8":0.000813},{"year":2022.509,"v7":0.000872,"v8":0.000872},{"year":2022.533,"v7":0.000998,"v8":0.000998},{"year":2022.545,"v7":0.001038,"v8":0.001038},{"year":2022.563,"v7":0.000852,"v8":0.000852},{"year":2022.581,"v7":0.000769,"v8":0.000769},{"year":2022.599,"v7":0.000891,"v8":0.000891},{"year":2022.616,"v7":0.000935,"v8":0.000935},{"year":2022.634,"v7":0.000779,"v8":0.000779},{"year":2022.658,"v7":0.000803,"v8":0.000803},{"year":2022.676,"v7":0.000891,"v8":0.000891},{"year":2022.700,"v7":0.001081,"v8":0.001081},{"year":2022.718,"v7":0.000930,"v8":0.000930},{"year":2022.730,"v7":0.000911,"v8":0.000911},{"year":2022.747,"v7":0.001018,"v8":0.001018},{"year":2022.759,"v7":0.001086,"v8":0.001086},{"year":2022.774,"v7":0.001120,"v8":0.001120},{"year":2022.789,"v7":0.000979,"v8":0.000979},{"year":2022.807,"v7":0.000852,"v8":0.000852},{"year":2022.825,"v7":0.000998,"v8":0.000998},{"year":2022.843,"v7":0.001047,"v8":0.001047},{"year":2022.866,"v7":0.000964,"v8":0.000964},{"year":2022.890,"v7":0.000823,"v8":0.000823},{"year":2022.908,"v7":0.000804,"v8":0.000804},{"year":2022.932,"v7":0.000930,"v8":0.000930},{"year":2022.953,"v7":0.001135,"v8":0.001135},{"year":2022.968,"v7":0.001008,"v8":0.001008},{"year":2022.985,"v7":0.000891,"v8":0.000891},{"year":2023.003,"v7":0.001096,"v8":0.001096},{"year":2023.021,"v7":0.001252,"v8":0.001252},{"year":2023.039,"v7":0.001325,"v8":0.001325},{"year":2023.057,"v7":0.001252,"v8":0.001252},{"year":2023.078,"v7":0.001106,"v8":0.001106},{"year":2023.093,"v7":0.001155,"v8":0.001155},{"year":2023.110,"v7":0.001408,"v8":0.001408},{"year":2023.122,"v7":0.001301,"v8":0.001301},{"year":2023.140,"v7":0.001057,"v8":0.001057},{"year":2023.158,"v7":0.001101,"v8":0.001101},{"year":2023.176,"v7":0.001301,"v8":0.001301},{"year":2023.188,"v7":0.001340,"v8":0.001340},{"year":2023.206,"v7":0.001086,"v8":0.001086},{"year":2023.224,"v7":0.001155,"v8":0.001155},{"year":2023.241,"v7":0.001106,"v8":0.001106},{"year":2023.259,"v7":0.001038,"v8":0.001038},{"year":2023.277,"v7":0.001145,"v8":0.001145},{"year":2023.295,"v7":0.001262,"v8":0.001262},{"year":2023.319,"v7":0.000994,"v8":0.000994},{"year":2023.343,"v7":0.001145,"v8":0.001145},{"year":2023.360,"v7":0.001130,"v8":0.001130},{"year":2023.378,"v7":0.001047,"v8":0.001047},{"year":2023.402,"v7":0.000988,"v8":0.000988},{"year":2023.420,"v7":0.001145,"v8":0.001145},{"year":2023.438,"v7":0.001125,"v8":0.001125},{"year":2023.456,"v7":0.001223,"v8":0.001223},{"year":2023.474,"v7":0.001164,"v8":0.001164},{"year":2023.491,"v7":0.001193,"v8":0.001193},{"year":2023.509,"v7":0.001096,"v8":0.001096},{"year":2023.527,"v7":0.001237,"v8":0.001237},{"year":2023.548,"v7":0.001193,"v8":0.001193},{"year":2023.569,"v7":0.001247,"v8":0.001247},{"year":2023.587,"v7":0.001271,"v8":0.001271},{"year":2023.605,"v7":0.001193,"v8":0.001193},{"year":2023.622,"v7":0.001174,"v8":0.001174},{"year":2023.640,"v7":0.001125,"v8":0.001125},{"year":2023.658,"v7":0.001091,"v8":0.001091},{"year":2023.676,"v7":0.001018,"v8":0.001018},{"year":2023.694,"v7":0.001125,"v8":0.001125},{"year":2023.712,"v7":0.001096,"v8":0.001096},{"year":2023.729,"v7":0.001189,"v8":0.001189},{"year":2023.747,"v7":0.001145,"v8":0.001145},{"year":2023.771,"v7":0.001271,"v8":0.001271},{"year":2023.795,"v7":0.001076,"v8":0.001076},{"year":2023.813,"v7":0.000998,"v8":0.000998},{"year":2023.831,"v7":0.001047,"v8":0.001047},{"year":2023.849,"v7":0.001125,"v8":0.001125},{"year":2023.866,"v7":0.000979,"v8":0.000979},{"year":2023.884,"v7":0.000901,"v8":0.000901},{"year":2023.908,"v7":0.001213,"v8":0.001213},{"year":2023.938,"v7":0.000881,"v8":0.000881},{"year":2023.956,"v7":0.001076,"v8":0.001076},{"year":2023.974,"v7":0.001213,"v8":0.001213},{"year":2023.991,"v7":0.001135,"v8":0.001135},{"year":2024.009,"v7":0.001042,"v8":0.001042},{"year":2024.033,"v7":0.001344,"v8":0.001344},{"year":2024.051,"v7":0.001155,"v8":0.001155},{"year":2024.069,"v7":0.001125,"v8":0.001125},{"year":2024.087,"v7":0.001067,"v8":0.001067},{"year":2024.105,"v7":0.001364,"v8":0.001364},{"year":2024.122,"v7":0.001223,"v8":0.001223},{"year":2024.146,"v7":0.001086,"v8":0.001086},{"year":2024.164,"v7":0.001008,"v8":0.001008},{"year":2024.182,"v7":0.001096,"v8":0.001096},{"year":2024.200,"v7":0.001018,"v8":0.001018},{"year":2024.218,"v7":0.001150,"v8":0.001150},{"year":2024.235,"v7":0.001223,"v8":0.001223},{"year":2024.253,"v7":0.000911,"v8":0.000911},{"year":2024.271,"v7":0.001125,"v8":0.001125},{"year":2024.289,"v7":0.001257,"v8":0.001257},{"year":2024.307,"v7":0.001286,"v8":0.001286},{"year":2024.322,"v7":0.001164,"v8":0.001164},{"year":2024.337,"v7":0.000964,"v8":0.000964},{"year":2024.355,"v7":0.001193,"v8":0.001193},{"year":2024.370,"v7":0.001400,"v8":0.001400}
]},
"layer": [
 {
  "mark": {"type": "line", "strokeWidth": 1.4, "clip": true, "invalid": "filter"},
  "encoding": {
   "x": {"field": "year", "type": "quantitative", "scale": {"domain": [2010.33, 2024.37], "nice": false, "zero": false},
     "axis": {"orient": "bottom", "values": [2010.5,2011,2011.5,2012,2012.5,2013,2013.5,2014,2014.5,2015,2015.5,2016,2016.5,2017,2017.5,2018,2018.5,2019,2019.5,2020,2020.5,2021,2021.5,2022,2022.5,2023,2023.5,2024],
       "labelExpr": "datum.value % 2 === 0 ? format(datum.value, 'd') : ''",
       "tickSize": {"condition": {"test": "datum.value % 2 === 0", "value": -10}, "value": -5},
       "labelPadding": 31, "title": "Year", "titlePadding": 4}},
   "y": {"field": "v7", "type": "quantitative", "scale": {"domain": [0, 0.0015], "nice": false, "zero": false},
     "axis": {"orient": "left", "values": [0,0.0001,0.0002,0.0003,0.0004,0.0005,0.0006,0.0007,0.0008,0.0009,0.001,0.0011,0.0012,0.0013,0.0014,0.0015],
       "labelExpr": "round(datum.value*10000) % 5 === 0 ? format(datum.value, '.4f') : ''",
       "tickSize": {"condition": {"test": "round(datum.value*10000) % 5 === 0", "value": -30}, "value": -15},
       "labelPadding": 40, "title": "W/m^2", "titleFont": "DejaVu Sans", "titleFontSize": 25, "titlePadding": 17, "titleY": 257}},
   "color": {"datum": "ESP V7", "type": "nominal",
     "scale": {"domain": ["ESP V7", "ESP V8"], "range": ["#000000", "#0000ff"]},
     "legend": {"orient": "none", "legendX": 17, "legendY": 398, "title": null,
       "strokeColor": "#000", "fillColor": "#ffffff", "padding": 10,
       "symbolSize": 100, "symbolOpacity": 0, "symbolStrokeWidth": 0, "labelOffset": 3,
       "labelFont": "DejaVu Sans", "labelFontWeight": 200, "labelFontSize": 21, "rowPadding": 18,
       "encode": {"labels": {"update": {"fill": {"scale": "color", "field": "value"}, "text": {"signal": "datum.label + '\u00a0'"}}}}}}
  }
 },
 {
  "mark": {"type": "line", "strokeWidth": 1.4, "clip": true, "invalid": "filter"},
  "encoding": {
   "x": {"field": "year", "type": "quantitative",
     "axis": {"orient": "top", "values": [2010.5,2011,2011.5,2012,2012.5,2013,2013.5,2014,2014.5,2015,2015.5,2016,2016.5,2017,2017.5,2018,2018.5,2019,2019.5,2020,2020.5,2021,2021.5,2022,2022.5,2023,2023.5,2024],
       "labels": false, "title": null,
       "tickSize": {"condition": {"test": "datum.value % 2 === 0", "value": -10}, "value": -5}}},
   "y": {"field": "v8", "type": "quantitative",
     "axis": {"orient": "right", "values": [0,0.0001,0.0002,0.0003,0.0004,0.0005,0.0006,0.0007,0.0008,0.0009,0.001,0.0011,0.0012,0.0013,0.0014,0.0015],
       "labels": false, "title": null,
       "tickSize": {"condition": {"test": "round(datum.value*10000) % 5 === 0", "value": -30}, "value": -15}}},
   "color": {"datum": "ESP V8", "type": "nominal"}
  }
 }
],
"resolve": {"axis": {"x": "independent", "y": "independent"}}
}
